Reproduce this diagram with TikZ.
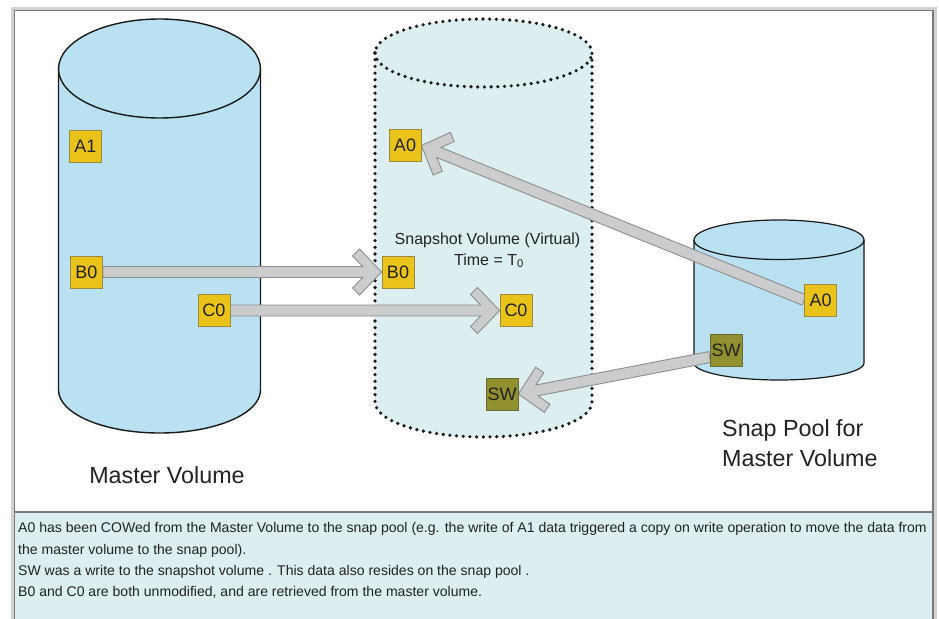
\documentclass[tikz,border=0pt]{standalone}
\usepackage{fontspec}
\setmainfont{Liberation Sans}
\usetikzlibrary{calc}
\pgfdeclarelayer{bg}
\pgfdeclarelayer{arrows}
\pgfsetlayers{bg,arrows,main}
\definecolor{mblue}{HTML}{B9E1F2}
\definecolor{sbg}{HTML}{DCEEF0}
\definecolor{yel}{HTML}{E9C31A}
\definecolor{yelb}{HTML}{9C8A40}
\definecolor{oliv}{HTML}{929130}
\definecolor{olivb}{HTML}{6A6A35}
\definecolor{arrf}{HTML}{CBCCCE}
\definecolor{arrd}{HTML}{8E8E8E}
\definecolor{framel}{HTML}{D2D2D2}
\definecolor{framed}{HTML}{7A7A7A}
\definecolor{txt}{HTML}{222222}
\newcommand\fatarrow[2]{%
  \begin{pgfonlayer}{arrows}
  \draw[fatarr] (#2)
    -- ($(#2)!31.83pt!-46.27:(#1)$)
    -- ($(#2)!33.12pt!-28.89:(#1)$)
    -- ($(#2)!19.74pt!-16.18:(#1)$)
    -- ($(#1)!5.5pt!90:(#2)$)
    -- ($(#1)!5.5pt!-90:(#2)$)
    -- ($(#2)!19.74pt!16.18:(#1)$)
    -- ($(#2)!33.12pt!28.89:(#1)$)
    -- ($(#2)!31.83pt!46.27:(#1)$)
    -- cycle;
  \end{pgfonlayer}}
\tikzset{
  block/.style={minimum size=32pt, inner sep=0pt, draw=yelb, line width=0.8pt,
    fill=yel, text=txt, font=\fontsize{18}{18}\selectfont},
  swblock/.style={block, fill=oliv, draw=olivb},
  fatarr/.style={fill=arrf, draw=arrd, line width=0.9pt, line join=miter},
  cyl/.style={draw=black!90, line width=1.4pt},
  dotline/.style={draw=black!90, line width=3.6pt, line cap=round, dash pattern=on 0pt off 6.7pt},
  biglabel/.style={text=txt, inner sep=0pt, font=\fontsize{23.3}{28}\selectfont},
  midlabel/.style={text=txt, inner sep=0pt, font=\fontsize{16}{19}\selectfont},
  note/.style={text=txt, inner sep=0pt, anchor=base west, font=\fontsize{14.05}{16}\selectfont},
}
\begin{document}
\begin{tikzpicture}[x=1pt, y=-1pt]
\useasboundingbox (0,0) rectangle (939,618);
\begin{pgfonlayer}{bg}
% frame
\fill[framel] (11,7) rectangle (937,622);
\fill[white] (15,11) rectangle (933,622);
\fill[sbg] (15,512) rectangle (933,622);
\draw[framed, line width=1.3pt] (14.5,622) -- (14.5,10.5) -- (933,10.5) -- (933,622);
\draw[framed, line width=1.3pt] (14.5,512) -- (933,512);
% master volume
\draw[cyl, fill=mblue] (58.5,69) -- (58.5,390) arc[start angle=180, end angle=360, x radius=101pt, y radius=43pt]
  -- (260.5,69) arc[start angle=0, end angle=180, x radius=101pt, y radius=50pt] -- cycle;
\draw[cyl] (58.5,69) arc[start angle=180, end angle=360, x radius=101pt, y radius=49pt];
% snapshot volume
\fill[sbg] (375,53) -- (375,402) arc[start angle=180, end angle=360, x radius=108.5pt, y radius=35pt]
  -- (592,53) arc[start angle=0, end angle=180, x radius=108.5pt, y radius=34pt] -- cycle;
\draw[dotline] (375,53) -- (375,402) arc[start angle=180, end angle=360, x radius=108.5pt, y radius=35pt]
  -- (592,53) arc[start angle=0, end angle=180, x radius=108.5pt, y radius=34pt];
\draw[dotline] (375,53) arc[start angle=180, end angle=360, x radius=108.5pt, y radius=34pt];
% snap pool
\draw[cyl, line width=1.2pt, fill=mblue] (694,240) -- (694,363) arc[start angle=180, end angle=360, x radius=85pt, y radius=17pt]
  -- (864,240) arc[start angle=0, end angle=180, x radius=85pt, y radius=20pt] -- cycle;
\draw[cyl, line width=1.2pt] (694,240) arc[start angle=180, end angle=360, x radius=85pt, y radius=19.5pt];
\end{pgfonlayer}

% blocks
\node[block] (mA1) at (85.5,146.5) {A1};
\node[block] (mB0) at (86.5,272) {B0};
\node[block] (mC0) at (214,310.5) {C0};
\node[block] (sA0) at (405,145.5) {A0};
\node[block] (sB0) at (398,272) {B0};
\node[block] (sC0) at (516,310.5) {C0};
\node[swblock] (sSW) at (502,394) {SW};
\node[block] (pA0) at (820.5,300) {A0};
\node[swblock] (pSW) at (726,350) {SW};

\coordinate (pSWt) at ([yshift=-7pt]pSW.west);
\fatarrow{mB0.east}{sB0.west}
\fatarrow{mC0.east}{sC0.west}
\fatarrow{pA0.west}{sA0.east}
\fatarrow{pSWt}{sSW.east}

% labels
\node[biglabel, anchor=base] (lmaster) at (167,483.3) {Master Volume};
\node[biglabel, anchor=base west] (lpool1) at (722,436.7) {Snap Pool for};
\node[biglabel, anchor=base west] (lpool2) at (722,466.7) {Master Volume};
\node[midlabel, anchor=base] (lsnap1) at (487.5,244) {Snapshot Volume (Virtual)};
\node[midlabel, anchor=base] (lsnap2) at (489,265) {Time = T\textsubscript{0}};

% notes
\node[note] (n1) at (18,532.7) {A0 has been COWed from the Master Volume to the snap pool (e.g. the write of A1 data triggered a copy on write operation to move the data from};
\node[note] (n2) at (18,554) {the master volume to the snap pool).};
\node[note] (n3) at (18,575.3) {SW was a write to the snapshot volume . This data also resides on the snap pool .};
\node[note] (n4) at (18,596.7) {B0 and C0 are both unmodified, and are retrieved from the master volume.};
\end{tikzpicture}
\end{document}
